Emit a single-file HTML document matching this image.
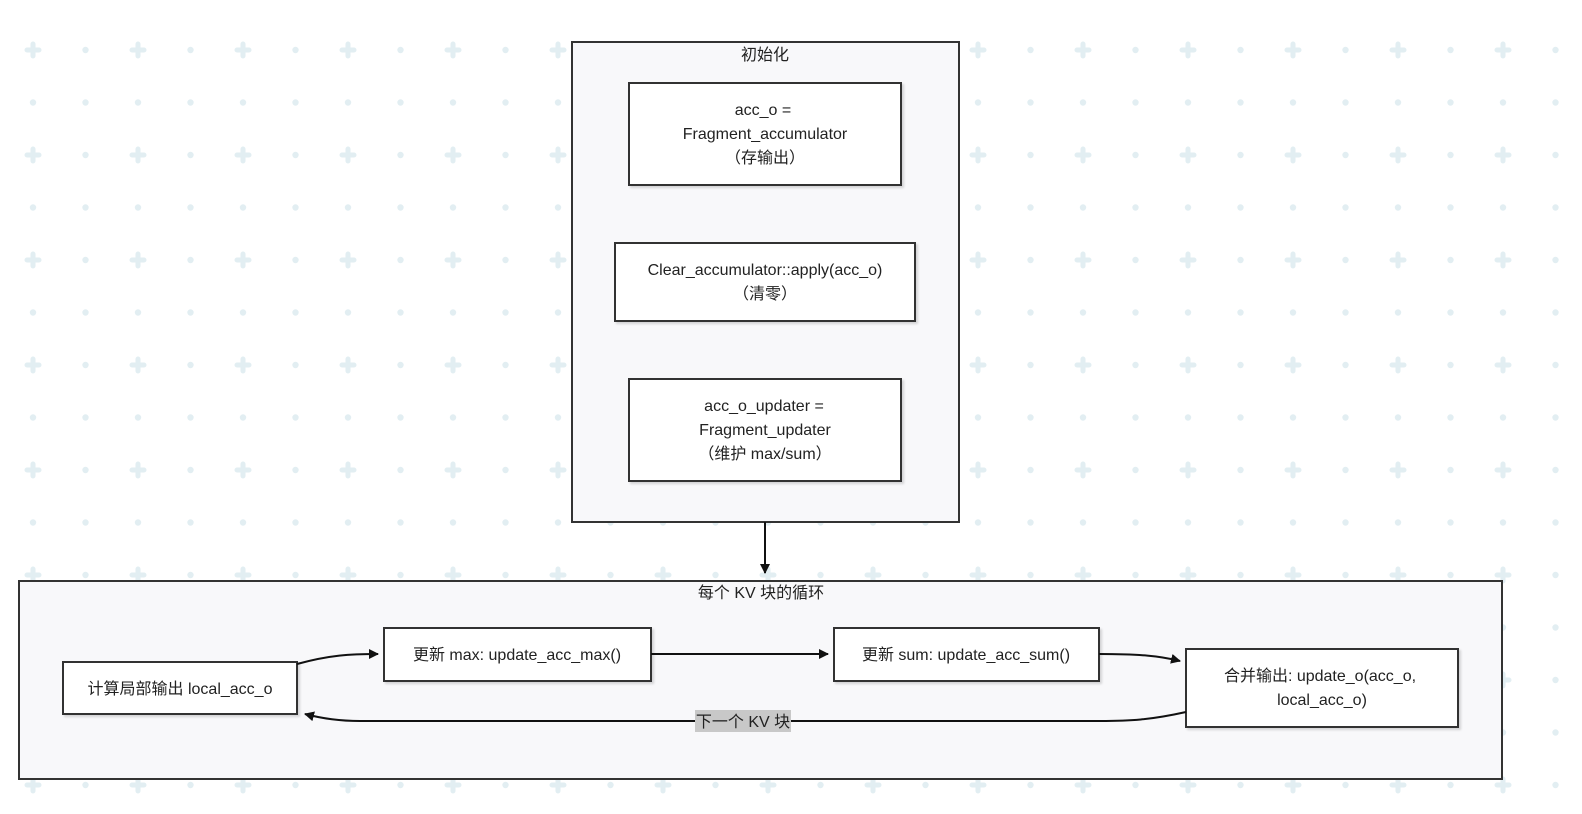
<!DOCTYPE html>
<html><head><meta charset="utf-8"><style>
html,body{margin:0;padding:0;background:#fff;width:1582px;height:814px;overflow:hidden}
svg text{font-family:"Liberation Sans","Noto Sans CJK SC",sans-serif;font-size:16px;fill:#222;text-anchor:middle}
</style></head><body>
<svg width="1582" height="814" viewBox="0 0 1582 814" xmlns="http://www.w3.org/2000/svg">
<defs>
<pattern id="g" patternUnits="userSpaceOnUse" x="-19.5" y="-2.5" width="105" height="105">
<g fill="#e2eef2">
<rect x="44" y="50" width="17" height="5" rx="2.5"/><rect x="50" y="44" width="5" height="17" rx="2.5"/>
<circle cx="0" cy="52.5" r="3.2"/><circle cx="105" cy="52.5" r="3.2"/>
<circle cx="52.5" cy="0" r="3.2"/><circle cx="52.5" cy="105" r="3.2"/>
<circle cx="0" cy="0" r="3.2"/><circle cx="105" cy="0" r="3.2"/><circle cx="0" cy="105" r="3.2"/><circle cx="105" cy="105" r="3.2"/>
</g></pattern>
<marker id="a" viewBox="0 0 10 10" refX="9" refY="5" markerWidth="5" markerHeight="5" orient="auto"><path d="M0,0L10,5L0,10z" fill="#111"/></marker>
<filter id="s"><feDropShadow dx="2" dy="2" stdDeviation="1" flood-color="#000" flood-opacity="0.15"/></filter>
</defs>
<rect x="0" y="20" width="1582" height="780" fill="url(#g)"/>
<g stroke="#333" stroke-width="2">
<rect x="572" y="42" width="387" height="480" fill="#f8f8fa"/>
<rect x="19" y="581" width="1483" height="198" fill="#f8f8fa"/>
<g fill="#fff" filter="url(#s)">
<rect x="629" y="83" width="272" height="102"/>
<rect x="615" y="243" width="300" height="78"/>
<rect x="629" y="379" width="272" height="102"/>
<rect x="63" y="662" width="234" height="52"/>
<rect x="384" y="628" width="267" height="53"/>
<rect x="834" y="628" width="265" height="53"/>
<rect x="1186" y="649" width="272" height="78"/>
</g>
</g>
<g fill="none" stroke="#111" stroke-width="2">
<path d="M765,522V573" marker-end="url(#a)"/>
<path d="M297,664C330,655 350,654 378,654" marker-end="url(#a)"/>
<path d="M651,654H828" marker-end="url(#a)"/>
<path d="M1099,654C1140,654 1160,656 1180,661" marker-end="url(#a)"/>
<path d="M1186,712C1150,720 1130,721 1100,721H360C340,721 320,718 305,714" marker-end="url(#a)"/>
</g>
<rect x="695" y="710" width="96" height="22" fill="#c8c8c8"/>
<text x="765" y="60">初始化</text>
<text x="763" y="115">acc_o =</text>
<text x="765" y="139">Fragment_accumulator</text>
<text x="765" y="163">（存输出）</text>
<text x="765" y="275">Clear_accumulator::apply(acc_o)</text>
<text x="765" y="299">（清零）</text>
<text x="764" y="411">acc_o_updater =</text>
<text x="765" y="435">Fragment_updater</text>
<text x="765" y="459">（维护 max/sum）</text>
<text x="761" y="598">每个 KV 块的循环</text>
<text x="180" y="694">计算局部输出 local_acc_o</text>
<text x="517" y="660">更新 max: update_acc_max()</text>
<text x="966" y="660">更新 sum: update_acc_sum()</text>
<text x="1320" y="681">合并输出: update_o(acc_o,</text>
<text x="1322" y="705">local_acc_o)</text>
<text x="743" y="727">下一个 KV 块</text>
</svg>
</body></html>
